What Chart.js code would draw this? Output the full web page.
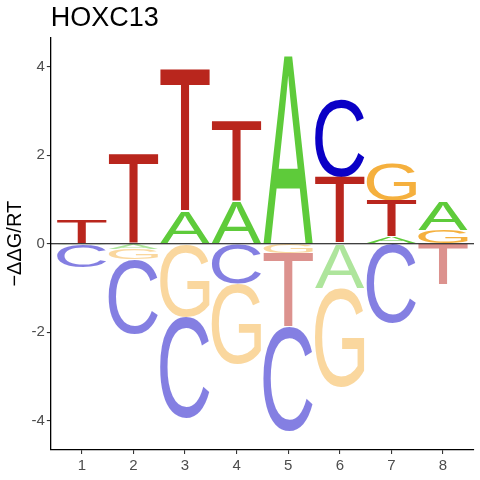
<!DOCTYPE html>
<html>
<head>
<meta charset="utf-8">
<script src="https://cdn.jsdelivr.net/npm/chart.js@4"></script>
<style>
    html, body { margin: 0; padding: 0; background: #fff; }
    #wrap { width: 480px; height: 480px; }
</style>
</head>
<body>
<div id="wrap"><canvas id="logoChart"></canvas></div>
<script>
(function() {
    'use strict';

    const positions = [1, 2, 3, 4, 5, 6, 7, 8];
    const letters = ['A', 'C', 'G', 'T'];
    // signed letter heights (-ddG/RT) per position
    const heightA = [-0.03, -0.13, 0.71, 0.93, 4.24, -1.00, 0.16, 0.62];
    const heightC = [-0.51, -1.67, -2.30, -0.91, -2.35, 1.74, -1.80, 0];
    const heightG = [0, -0.23, -1.65, -1.80, -0.22, -2.24, 0.83, 0.30];
    const heightT = [0.54, 2.03, 3.24, 1.81, -1.67, 1.51, 0.81, -0.92];
    const yTicks = [-4, -2, 0, 2, 4];

    const FONT = '"Liberation Sans", Arial, sans-serif';
    const colors = { A: '#5ecb3a', C: '#0a00c6', G: '#f5b03e', T: '#b9261d' };

    // stack letters: smallest next to zero, largest outermost
    function buildSegments() {
        const heights = { A: heightA, C: heightC, G: heightG, T: heightT };
        const seg = { A: [], C: [], G: [], T: [] };
        positions.forEach((p, i) => {
            let up = 0, down = 0;
            letters
                .map(l => [l, heights[l][i]])
                .sort((a, b) => Math.abs(a[1]) - Math.abs(b[1]))
                .forEach(([l, h]) => {
                    if (h >= 0) {
                        seg[l][i] = { x: p, y: [up, up + h] };
                        up += h;
                    } else {
                        seg[l][i] = { x: p, y: [down + h, down] };
                        down += h;
                    }
                });
        });
        return seg;
    }

    const segments = buildSegments();

    const letterPlugin = {
        id: 'letters',
        afterDatasetsDraw(chart) {
            const ctx = chart.ctx;
            chart.data.datasets.forEach((ds, di) => {
                const meta = chart.getDatasetMeta(di);
                meta.data.forEach((bar, i) => {
                    const seg = ds.data[i];
                    if (!seg || seg.y[1] - seg.y[0] <= 0) return;
                    const p = bar.getProps(['x', 'y', 'base', 'width'], true);
                    const top = Math.min(p.y, p.base);
                    const h = Math.abs(p.base - p.y);
                    const left = p.x - p.width / 2;

                    ctx.save();
                    ctx.font = '100px ' + FONT;
                    ctx.textAlign = 'left';
                    ctx.textBaseline = 'alphabetic';
                    const m = ctx.measureText(ds.label);
                    const gw = m.actualBoundingBoxLeft + m.actualBoundingBoxRight;
                    const gh = m.actualBoundingBoxAscent + m.actualBoundingBoxDescent;
                    ctx.globalAlpha = seg.y[1] <= 0 ? 0.5 : 1;
                    ctx.fillStyle = colors[ds.label];
                    ctx.translate(left, top);
                    ctx.scale(p.width / gw, h / gh);
                    ctx.fillText(ds.label, m.actualBoundingBoxLeft, m.actualBoundingBoxAscent);
                    ctx.restore();
                });
            });

            // zero line
            const area = chart.chartArea;
            const y0 = chart.scales.y.getPixelForValue(0);
            ctx.save();
            ctx.strokeStyle = '#000';
            ctx.lineWidth = 1.1;
            ctx.beginPath();
            ctx.moveTo(area.left, y0);
            ctx.lineTo(area.right, y0);
            ctx.stroke();
            ctx.restore();
        }
    };

    new Chart(document.getElementById('logoChart'), {
        type: 'bar',
        data: {
            datasets: letters.map(l => ({
                label: l,
                data: segments[l],
                backgroundColor: 'rgba(0,0,0,0)',
                borderWidth: 0,
                grouped: false,
                barPercentage: 0.96,
                categoryPercentage: 1
            }))
        },
        options: {
            responsive: true,
            maintainAspectRatio: false,
            animation: false,
            layout: { padding: { top: 0, right: 6, bottom: 2, left: 0 } },
            plugins: {
                legend: { display: false },
                tooltip: { enabled: false },
                title: {
                    display: true,
                    text: 'HOXC13',
                    align: 'start',
                    fullSize: false,
                    color: '#000',
                    font: { size: 27, family: FONT, weight: 'normal' },
                    padding: { top: 2, bottom: 3 }
                }
            },
            scales: {
                x: {
                    type: 'linear',
                    min: 0.4,
                    max: 8.6,
                    offset: false,
                    afterBuildTicks: axis => { axis.ticks = positions.map(v => ({ value: v })); },
                    grid: { drawOnChartArea: false, offset: false, color: '#333', tickLength: 4, lineWidth: 1.1 },
                    border: { color: '#000', width: 1.3 },
                    ticks: { color: '#4d4d4d', font: { size: 15, family: FONT }, padding: 3 }
                },
                y: {
                    min: -4.66,
                    max: 4.66,
                    afterBuildTicks: axis => { axis.ticks = yTicks.map(v => ({ value: v })); },
                    grid: { drawOnChartArea: false, color: '#333', tickLength: 4, lineWidth: 1.1 },
                    border: { color: '#000', width: 1.3 },
                    ticks: { color: '#4d4d4d', font: { size: 15, family: FONT }, padding: 2 },
                    title: {
                        display: true,
                        text: '\u2212\u0394\u0394G/RT',
                        color: '#000',
                        font: { size: 20, family: FONT },
                        padding: { top: 3, bottom: 2.5 }
                    }
                }
            }
        },
        plugins: [letterPlugin]
    });
})();
</script>
</body>
</html>
